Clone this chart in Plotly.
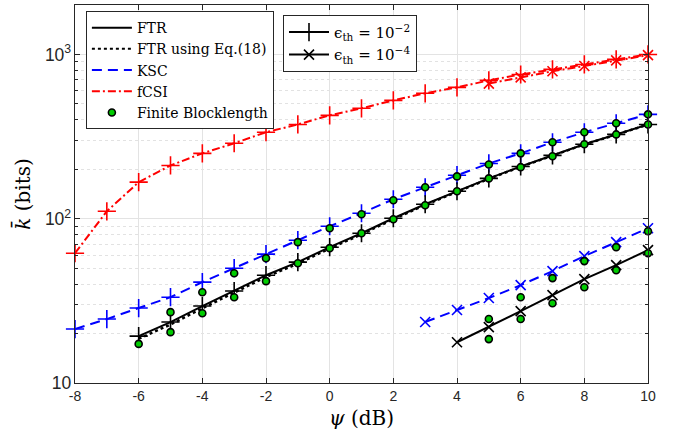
import plotly.graph_objects as go

# SNR grid (dB)
psi_full = [-8, -7, -6, -5, -4, -3, -2, -1, 0, 1, 2, 3, 4, 5, 6, 7, 8, 9, 10]
psi_ftr = [-6, -5, -4, -3, -2, -1, 0, 1, 2, 3, 4, 5, 6, 7, 8, 9, 10]
psi_fb_ksc = [-5, -4, -3, -2, -1, 0, 1, 2, 3, 4, 5, 6, 7, 8, 9, 10]
psi_ksc_e4 = [3, 4, 5, 6, 7, 8, 9, 10]
psi_ftr_e4 = [4, 5, 6, 7, 8, 9, 10]
psi_fcsi_e4 = [5, 6, 7, 8, 9, 10]
psi_fb_e4 = [5, 6, 7, 8, 9, 10]

# eps_th = 1e-2
fcsi_e2 = [61.7, 111, 167, 211, 250, 288, 336, 375, 426, 470, 525, 580, 630, 695, 755, 811, 869, 933, 1000]
ksc_e2 = [21.3, 24.5, 28.6, 33.3, 41.1, 50.0, 60.9, 74.0, 90.0, 108, 131.4, 155.4, 184, 217, 250, 292, 336, 381, 432]
ftr_e2 = [19.3, 23.5, 29.4, 36.3, 45.3, 54.4, 67.1, 81.6, 100.7, 122.5, 147, 176, 208, 243, 284, 326, 375]
ftr_eq18_e2 = [18.6, 22.7, 28.5, 35.3, 44.2, 53.3, 65.9, 80.4, 99.4, 121.3, 146, 175, 207, 242, 283, 325, 374]
fb_ksc_e2 = [27.0, 35.7, 46.6, 57.5, 72.0, 87.5, 106.5, 129.5, 155.4, 181, 214, 250, 292, 336, 381, 432]
fb_ftr_e2 = [17.3, 20.4, 26.6, 33.3, 41.7, 53.6, 66.2, 81.6, 99.3, 120.8, 147, 176, 206, 240, 284, 326, 375]

# eps_th = 1e-4
fcsi_e4 = [665, 725, 790, 850, 920, 990]
ksc_e4 = [23.5, 27.8, 32.9, 39.4, 48.0, 59.2, 72.0, 87.5]
ftr_e4 = [17.7, 21.9, 27.4, 34.3, 42.9, 52.2, 64.4]
fb_ksc_e4 = [24.5, 33.3, 43.5, 55.2, 67.1, 83.9]
fb_ftr_e4 = [18.5, 24.5, 30.6, 38.3, 48.6, 61.7]

x_ticks = [-8, -6, -4, -2, 0, 2, 4, 6, 8, 10]

BLACK = "#000000"
BLUE = "#0000ff"
RED = "#ff0000"
GREEN = "#00cc00"
SERIF = "DejaVu Serif, Liberation Serif, serif"
SANS = "Liberation Sans, Arial, sans-serif"

DASH_KSC = "10px,6px"
DASH_FCSI = "8px,3px,2px,3px"

fig = go.Figure()


def curve(x, y, color, dash, symbol, size):
    fig.add_trace(go.Scatter(
        x=x, y=y, mode="lines+markers", showlegend=False, cliponaxis=False,
        line=dict(color=color, width=2, dash=dash),
        marker=dict(symbol=symbol, size=size, color=color,
                    line=dict(color=color, width=1.6)),
    ))


def fb_points(x, y):
    fig.add_trace(go.Scatter(
        x=x, y=y, mode="markers", showlegend=False, cliponaxis=False,
        marker=dict(symbol="circle", size=7, color=GREEN,
                    line=dict(color=BLACK, width=1.6)),
    ))


# fCSI
curve(psi_full, fcsi_e2, RED, DASH_FCSI, "cross-thin", 13)
curve(psi_fcsi_e4, fcsi_e4, RED, DASH_FCSI, "x-thin", 10)
# KSC
curve(psi_full, ksc_e2, BLUE, DASH_KSC, "cross-thin", 13)
curve(psi_ksc_e4, ksc_e4, BLUE, DASH_KSC, "x-thin", 10)
# FTR with the closed-form approximation (dotted)
fig.add_trace(go.Scatter(
    x=psi_ftr, y=ftr_eq18_e2, mode="lines", showlegend=False,
    line=dict(color=BLACK, width=2.5, dash="dot"),
))
# FTR exact
curve(psi_ftr, ftr_e2, BLACK, "solid", "cross-thin", 13)
curve(psi_ftr_e4, ftr_e4, BLACK, "solid", "x-thin", 10)
# Finite blocklength simulations
fb_points(psi_fb_ksc, fb_ksc_e2)
fb_points(psi_ftr, fb_ftr_e2)
fb_points(psi_fb_e4, fb_ksc_e4)
fb_points(psi_fb_e4, fb_ftr_e4)

# Legend entries (scheme legend)
fig.add_trace(go.Scatter(x=[None], y=[None], mode="lines", name="FTR",
                         line=dict(color=BLACK, width=2), legend="legend"))
fig.add_trace(go.Scatter(x=[None], y=[None], mode="lines", name="FTR using Eq.(18)",
                         line=dict(color=BLACK, width=2, dash="dot"), legend="legend"))
fig.add_trace(go.Scatter(x=[None], y=[None], mode="lines", name="KSC",
                         line=dict(color=BLUE, width=2, dash=DASH_KSC), legend="legend"))
fig.add_trace(go.Scatter(x=[None], y=[None], mode="lines", name="fCSI",
                         line=dict(color=RED, width=2, dash=DASH_FCSI), legend="legend"))
fig.add_trace(go.Scatter(x=[None], y=[None], mode="markers", name="Finite Blocklength",
                         marker=dict(symbol="circle", size=7, color=GREEN,
                                     line=dict(color=BLACK, width=1.6)),
                         legend="legend"))

# Legend entries (outage threshold legend)
fig.add_trace(go.Scatter(x=[None], y=[None], mode="lines+markers",
                         name="ϵ<sub>th</sub> = 10<sup>−2</sup>",
                         line=dict(color=BLACK, width=2),
                         marker=dict(symbol="cross-thin", size=13, color=BLACK,
                                     line=dict(color=BLACK, width=1.6)),
                         legend="legend2"))
fig.add_trace(go.Scatter(x=[None], y=[None], mode="lines+markers",
                         name="ϵ<sub>th</sub> = 10<sup>−4</sup>",
                         line=dict(color=BLACK, width=2),
                         marker=dict(symbol="x-thin", size=10, color=BLACK,
                                     line=dict(color=BLACK, width=1.6)),
                         legend="legend2"))

legend_style = dict(
    bgcolor="white", bordercolor="#262626", borderwidth=1,
    font=dict(family=SERIF, size=14, color=BLACK),
    xanchor="left", yanchor="top", tracegroupgap=0,
    itemwidth=40,
)

fig.update_layout(
    width=685, height=437,
    margin=dict(l=75, r=37, t=5, b=54),
    paper_bgcolor="white", plot_bgcolor="white",
    legend=dict(x=0.019, y=0.984, **legend_style),
    legend2=dict(x=0.363, y=0.974, font=dict(family=SERIF, size=15, color=BLACK),
                 **{k: v for k, v in legend_style.items() if k != "font"}),
    xaxis=dict(
        range=[-8, 10], tickvals=x_ticks,
        ticktext=[str(v) for v in x_ticks],
        ticks="inside", ticklen=5, tickcolor="#262626",
        showline=True, linecolor="#262626", linewidth=1, mirror="ticks",
        showgrid=True, gridcolor="#e3e3e3", gridwidth=1,
        zeroline=False,
        tickfont=dict(family=SANS, size=14, color="#262626"),
        title=dict(text="<i>ψ</i> (dB)", standoff=8,
                   font=dict(family=SERIF, size=20, color=BLACK)),
    ),
    yaxis=dict(
        type="log", range=[1, 3.30103], dtick=1,
        exponentformat="power",
        ticks="inside", ticklen=5, tickcolor="#262626",
        showline=True, linecolor="#262626", linewidth=1, mirror="ticks",
        showgrid=True, gridcolor="#e3e3e3", gridwidth=1,
        zeroline=False,
        tickfont=dict(family=SANS, size=14, color="#262626"),
        minor=dict(dtick="D1", ticks="inside", ticklen=3, tickcolor="#262626",
                   showgrid=True, gridcolor="#e2e2e2", griddash="dot", gridwidth=1),
        title=dict(text="<i>k̄</i> (bits)", standoff=8,
                   font=dict(family=SERIF, size=20, color=BLACK)),
    ),
)

fig.write_html("out.html")
